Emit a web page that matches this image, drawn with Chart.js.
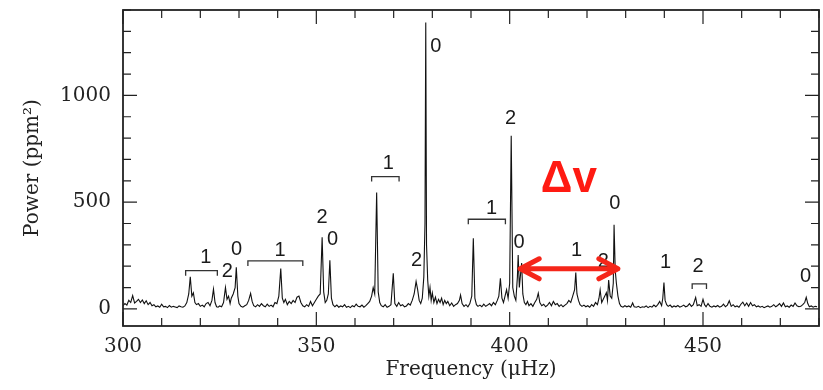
<!DOCTYPE html>
<html>
<head>
<meta charset="utf-8">
<script src="https://cdn.jsdelivr.net/npm/chart.js@4.4.1/dist/chart.umd.min.js"></script>
<style>
  html, body { margin: 0; padding: 0; background: #fff; }
  #wrap { width: 823px; height: 390px; }
</style>
</head>
<body>
<div id="wrap"><canvas id="spec"></canvas></div>
<script>
// power spectrum (frequency in uHz, power in ppm^2)
const freq = [
  300.0, 300.5, 301.0, 301.5, 302.0, 302.5, 303.0, 303.5, 304.0, 304.5, 305.0, 305.5, 306.0, 306.5, 307.0, 307.5,
  308.0, 308.5, 309.0, 309.5, 310.0, 310.5, 311.0, 311.5, 312.0, 312.5, 313.0, 313.5, 314.0, 314.5, 315.0, 315.5,
  316.0, 316.5, 317.0, 317.4, 317.8, 318.2, 318.6, 319.0, 319.5, 320.0, 320.5, 321.0, 321.5, 322.0, 322.5, 323.0,
  323.4, 323.8, 324.2, 324.6, 325.0, 325.5, 326.0, 326.5, 326.9, 327.3, 327.7, 328.0, 328.5, 329.0, 329.3, 329.7,
  330.0, 330.5, 331.0, 331.5, 332.0, 332.5, 333.0, 333.4, 333.8, 334.3, 334.8, 335.3, 335.8, 336.3, 336.8, 337.3,
  337.8, 338.3, 338.8, 339.3, 339.8, 340.3, 340.8, 341.2, 341.6, 342.0, 342.5, 343.0, 343.5, 344.0, 344.5, 345.0,
  345.5, 346.0, 346.5, 347.0, 347.5, 348.0, 348.5, 349.0, 349.5, 350.0, 350.5, 351.0, 351.5, 351.9, 352.3, 352.7,
  353.1, 353.5, 353.9, 354.3, 354.8, 355.3, 355.8, 356.3, 356.8, 357.3, 357.8, 358.3, 358.8, 359.3, 359.8, 360.3,
  360.8, 361.3, 361.8, 362.3, 362.8, 363.3, 363.8, 364.3, 364.7, 365.1, 365.6, 366.0, 366.4, 366.8, 367.3, 367.8,
  368.3, 368.8, 369.3, 369.9, 370.3, 370.8, 371.3, 371.8, 372.3, 372.8, 373.3, 373.8, 374.3, 374.8, 375.3, 375.8,
  376.2, 376.6, 377.0, 377.4, 377.8, 378.1, 378.3, 378.5, 378.8, 379.1, 379.4, 379.7, 380.0, 380.4, 380.8, 381.2,
  381.6, 382.0, 382.4, 382.8, 383.2, 383.6, 384.0, 384.5, 385.0, 385.5, 386.0, 386.5, 387.0, 387.3, 387.7, 388.2,
  388.7, 389.2, 389.7, 390.2, 390.6, 391.0, 391.4, 391.8, 392.3, 392.8, 393.3, 393.8, 394.3, 394.8, 395.3, 395.8,
  396.3, 396.8, 397.2, 397.6, 398.0, 398.4, 398.8, 399.2, 399.6, 400.0, 400.4, 400.8, 401.2, 401.6, 402.0, 402.2,
  402.5, 402.8, 403.1, 403.4, 403.8, 404.2, 404.6, 405.0, 405.5, 406.0, 406.5, 407.0, 407.4, 407.8, 408.3, 408.8,
  409.3, 409.8, 410.3, 410.8, 411.3, 411.8, 412.3, 412.8, 413.3, 413.8, 414.3, 414.8, 415.3, 415.8, 416.3, 416.8,
  417.1, 417.4, 417.8, 418.2, 418.7, 419.2, 419.7, 420.2, 420.7, 421.2, 421.7, 422.2, 422.7, 423.1, 423.4, 423.8,
  424.2, 424.6, 425.0, 425.3, 425.6, 426.0, 426.4, 426.8, 427.0, 427.3, 427.6, 428.0, 428.4, 428.8, 429.3, 429.8,
  430.3, 430.8, 431.3, 431.8, 432.2, 432.8, 433.3, 433.8, 434.3, 434.8, 435.3, 435.8, 436.3, 436.8, 437.3, 437.8,
  438.3, 438.8, 439.3, 439.6, 439.9, 440.2, 440.6, 441.0, 441.5, 442.0, 442.5, 443.0, 443.5, 444.0, 444.5, 445.0,
  445.5, 446.0, 446.5, 447.0, 447.5, 448.1, 448.5, 449.0, 449.5, 450.0, 450.4, 450.8, 451.3, 451.8, 452.3, 452.8,
  453.3, 453.8, 454.3, 454.8, 455.3, 455.8, 456.3, 456.8, 457.3, 457.8, 458.3, 458.8, 459.3, 459.8, 460.3, 460.8,
  461.3, 461.8, 462.3, 462.8, 463.3, 463.8, 464.3, 464.8, 465.3, 465.8, 466.3, 466.8, 467.3, 467.8, 468.3, 468.8,
  469.3, 469.8, 470.3, 470.8, 471.3, 471.8, 472.3, 472.8, 473.3, 473.8, 474.3, 474.8, 475.3, 475.8, 476.3, 476.7,
  477.1, 477.5, 478.0, 478.5, 479.0, 479.5
];
const power = [
  15, 25, 18, 40, 30, 62, 28, 35, 45, 30, 42, 25, 38, 20, 30, 15,
  20, 10, 14, 8, 22, 10, 12, 6, 16, 8, 12, 9, 6, 14, 10, 8,
  14, 30, 70, 151, 60, 75, 30, 20, 25, 12, 18, 10, 25, 30, 15, 40,
  93, 30, 10, 8, 14, 10, 30, 100, 45, 60, 25, 50, 70, 100, 195, 60,
  25, 12, 8, 15, 20, 40, 73, 35, 15, 10, 20, 12, 25, 15, 10, 22,
  12, 18, 10, 30, 25, 60, 189, 50, 30, 45, 20, 35, 25, 40, 30, 55,
  60, 30, 15, 10, 20, 12, 35, 15, 30, 45, 60, 70, 336, 80, 30, 40,
  70, 228, 50, 20, 10, 18, 8, 14, 10, 20, 8, 12, 6, 15, 10, 22,
  12, 10, 18, 8, 15, 25, 35, 60, 100, 70, 545, 80, 30, 15, 10, 20,
  8, 12, 20, 167, 25, 12, 30, 15, 20, 10, 14, 25, 18, 40, 70, 128,
  90, 40, 25, 50, 150, 400, 1342, 300, 135, 60, 100, 40, 75, 30, 55, 25,
  45, 30, 50, 20, 40, 25, 35, 15, 28, 12, 20, 25, 40, 65, 25, 12,
  20, 10, 25, 60, 331, 50, 20, 12, 18, 10, 22, 12, 18, 25, 15, 30,
  20, 40, 60, 143, 50, 30, 60, 90, 50, 120, 811, 100, 60, 40, 150, 253,
  100, 160, 215, 70, 30, 20, 35, 15, 25, 12, 30, 45, 74, 30, 15, 22,
  10, 18, 30, 15, 35, 20, 25, 12, 20, 10, 18, 25, 40, 30, 60, 90,
  170, 70, 40, 20, 12, 18, 10, 15, 8, 20, 12, 30, 20, 50, 89, 30,
  45, 60, 76, 40, 135, 60, 50, 120, 394, 180, 120, 60, 25, 12, 8, 15,
  10, 14, 8, 28, 10, 8, 12, 6, 10, 8, 14, 6, 12, 8, 18, 10,
  20, 35, 15, 50, 123, 40, 20, 12, 18, 8, 14, 10, 16, 8, 12, 18,
  10, 14, 25, 12, 20, 54, 15, 20, 12, 45, 20, 10, 25, 12, 8, 14,
  10, 16, 8, 12, 22, 10, 18, 38, 12, 20, 10, 14, 8, 22, 32, 15,
  28, 12, 30, 15, 20, 10, 14, 8, 12, 6, 10, 14, 8, 12, 20, 10,
  16, 25, 12, 28, 10, 14, 8, 18, 12, 28, 15, 10, 12, 20, 30, 54,
  25, 10, 14, 8, 12, 10
];

// mode degree labels: text, frequency, power of the label centre
const modeText = ['1', '2', '0', '1', '2', '0', '1', '2', '0', '1', '2', '0', '1', '2', '0', '1', '2', '0'];
const modeFreq = [321.4, 327.0, 329.4, 340.6, 351.5, 354.2, 368.6, 375.9, 380.9, 395.3, 400.2, 402.4, 417.3, 424.2, 427.2, 440.3, 448.7, 476.5];
const modePow  = [242, 174, 280, 273, 428, 326, 680, 229, 1227, 472, 894, 310, 276, 221, 492, 217, 198, 151];

// brackets over the l=1 groups: start, end, power level
const brStart = [316.2, 332.3, 364.3, 389.3, 447.2];
const brEnd   = [324.4, 346.5, 371.4, 398.9, 450.9];
const brPow   = [179, 225, 620, 420, 117];

// large separation arrow
const sepFrom = 402.2;
const sepTo = 428.5;
const sepPow = 188;
const sepLabel = 'Δv';
const sepLabelFreq = 415.3;
const sepLabelPow = 604;

const ink = '#1a1a1a';

const decor = {
  id: 'decor',
  afterDatasetsDraw(chart) {
    const ctx = chart.ctx;
    const x = chart.scales.x, y = chart.scales.y;
    ctx.save();

    // brackets
    ctx.strokeStyle = '#333';
    ctx.lineWidth = 1.3;
    for (let i = 0; i < brStart.length; i++) {
      const x1 = x.getPixelForValue(brStart[i]);
      const x2 = x.getPixelForValue(brEnd[i]);
      const yy = y.getPixelForValue(brPow[i]);
      ctx.beginPath();
      ctx.moveTo(x1, yy + 5);
      ctx.lineTo(x1, yy);
      ctx.lineTo(x2, yy);
      ctx.lineTo(x2, yy + 5);
      ctx.stroke();
    }

    // degree labels
    ctx.fillStyle = ink;
    ctx.font = '20px "Liberation Sans", Arial, sans-serif';
    ctx.textAlign = 'center';
    ctx.textBaseline = 'middle';
    for (let i = 0; i < modeText.length; i++) {
      ctx.fillText(modeText[i], x.getPixelForValue(modeFreq[i]), y.getPixelForValue(modePow[i]));
    }

    // delta nu
    ctx.fillStyle = '#ff1a12';
    ctx.font = 'bold 44px "Liberation Sans", Arial, sans-serif';
    ctx.fillText(sepLabel, x.getPixelForValue(sepLabelFreq), y.getPixelForValue(sepLabelPow));

    // double arrow
    const ax1 = x.getPixelForValue(sepFrom);
    const ax2 = x.getPixelForValue(sepTo);
    const ay = y.getPixelForValue(sepPow);
    ctx.strokeStyle = '#f5261a';
    ctx.lineWidth = 5;
    ctx.lineCap = 'round';
    ctx.lineJoin = 'round';
    ctx.beginPath();
    ctx.moveTo(ax1 + 2, ay);
    ctx.lineTo(ax2 - 2, ay);
    ctx.moveTo(ax1 + 21, ay - 10);
    ctx.lineTo(ax1 + 2, ay);
    ctx.lineTo(ax1 + 21, ay + 10);
    ctx.moveTo(ax2 - 21, ay - 10);
    ctx.lineTo(ax2 - 2, ay);
    ctx.lineTo(ax2 - 21, ay + 10);
    ctx.stroke();

    ctx.restore();
  },
  afterDraw(chart) {
    const ctx = chart.ctx;
    const a = chart.chartArea;
    const x = chart.scales.x, y = chart.scales.y;
    ctx.save();
    ctx.strokeStyle = '#222';
    ctx.lineWidth = 1.2;
    ctx.beginPath();
    x.ticks.forEach(t => {
      const px = x.getPixelForValue(t.value);
      const len = t.value % 50 === 0 ? 14 : 8;
      ctx.moveTo(px, a.bottom); ctx.lineTo(px, a.bottom - len);
      ctx.moveTo(px, a.top); ctx.lineTo(px, a.top + len);
    });
    y.ticks.forEach(t => {
      const py = y.getPixelForValue(t.value);
      const len = t.value % 500 === 0 ? 14 : 8;
      ctx.moveTo(a.left, py); ctx.lineTo(a.left + len, py);
      ctx.moveTo(a.right, py); ctx.lineTo(a.right - len, py);
    });
    ctx.stroke();
    ctx.lineWidth = 1.8;
    ctx.strokeRect(a.left, a.top, a.right - a.left, a.bottom - a.top);
    ctx.restore();
  }
};

const tickFont = { family: '"DejaVu Serif", serif', size: 20 };

new Chart('spec', {
  type: 'line',
  data: {
    datasets: [{
      data: freq.map((f, i) => ({ x: f, y: power[i] })),
      borderColor: '#111',
      borderWidth: 1.1,
      pointRadius: 0,
      tension: 0,
      fill: false
    }]
  },
  options: {
    responsive: true,
    maintainAspectRatio: false,
    animation: false,
    events: [],
    layout: { padding: { top: 10, right: 4, left: 0, bottom: 0 } },
    plugins: { legend: { display: false }, tooltip: { enabled: false } },
    scales: {
      x: {
        type: 'linear',
        min: 300,
        max: 480,
        grid: { display: false, drawTicks: false },
        border: { display: false },
        ticks: {
          stepSize: 10,
          autoSkip: false,
          maxRotation: 0,
          includeBounds: false,
          padding: 9,
          color: '#222',
          font: tickFont,
          callback: v => (v % 50 === 0 ? String(v) : '')
        },
        title: {
          display: true,
          text: 'Frequency (μHz)',
          color: '#222',
          font: tickFont,
          padding: { top: 0, bottom: 8 }
        },
        afterFit: s => {
          s.height = 64;
          s.paddingLeft = 0;
          s.paddingRight = 0;
        }
      },
      y: {
        type: 'linear',
        min: -80,
        max: 1400,
        grid: { display: false, drawTicks: false },
        border: { display: false },
        ticks: {
          stepSize: 100,
          autoSkip: false,
          includeBounds: false,
          padding: 12,
          color: '#222',
          font: tickFont,
          callback: v => (v % 500 === 0 ? String(v) : '')
        },
        title: {
          display: true,
          text: 'Power (ppm²)',
          color: '#222',
          font: tickFont,
          padding: { top: 21, bottom: 0 }
        },
        afterFit: s => {
          s.width = 123;
          s.paddingTop = 0;
          s.paddingBottom = 0;
        }
      }
    }
  },
  plugins: [decor]
});
</script>
</body>
</html>
